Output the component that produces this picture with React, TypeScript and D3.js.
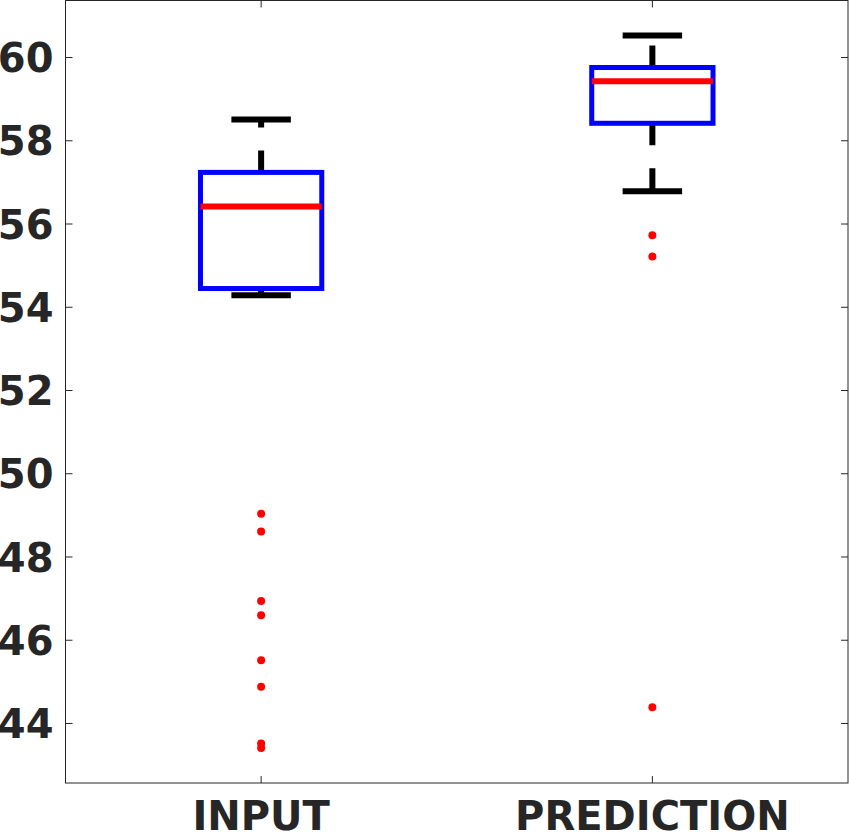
import React from "react";
import * as d3 from "d3";

const categories = ["INPUT", "PREDICTION"];
const q1Values = [54.45, 58.42];
const medianValues = [56.42, 59.43];
const q3Values = [57.24, 59.76];
const lowerWhisker = [54.29, 56.79];
const upperWhisker = [58.51, 60.53];
const outliersInput = [49.04, 48.61, 46.94, 46.6, 45.52, 44.88, 43.52, 43.41];
const outliersPrediction = [55.73, 55.22, 44.39];
const outlierLists = [outliersInput, outliersPrediction];
const yTicks = [44, 46, 48, 50, 52, 54, 56, 58, 60];

const W = 849;
const H = 832;
const L = 65.5;
const R = 848;
const T = 0.5;
const B = 783;

export default function App() {
  const x = d3.scaleLinear().domain([0.5, 2.5]).range([L, R]);
  const y = d3.scaleLinear().domain([42.57, 61.37]).range([B, T]);
  const halfBox = 0.155;
  const halfCap = 0.076;
  const axisColor = "#262626";
  const font = "'DejaVu Sans', sans-serif";
  const fs = 40;

  return (
    <div style={{ position: "absolute", left: 0, top: 0 }}>
      <svg width={W} height={H} style={{ display: "block", background: "#fff" }}>
        <rect x={L} y={T} width={R - L} height={B - T} fill="#fff" stroke={axisColor} strokeWidth={1} />
        {yTicks.map((t) => (
          <g key={t}>
            <line x1={L} x2={L + 7} y1={y(t)} y2={y(t)} stroke={axisColor} />
            <line x1={R - 7} x2={R} y1={y(t)} y2={y(t)} stroke={axisColor} />
            <text
              x={L - 12}
              y={y(t) + 0.3645 * fs}
              textAnchor="end"
              fontFamily={font}
              fontWeight="bold"
              fontSize={fs}
              fill={axisColor}
            >
              {t}
            </text>
          </g>
        ))}
        {categories.map((c, i) => {
          const cx = x(i + 1);
          return (
            <g key={c}>
              <line x1={cx} x2={cx} y1={B} y2={B - 7} stroke={axisColor} />
              <line x1={cx} x2={cx} y1={T} y2={T + 7} stroke={axisColor} />
              <text
                x={cx}
                y={830}
                textAnchor="middle"
                fontFamily={font}
                fontWeight="bold"
                fontSize={fs}
                fill={axisColor}
              >
                {c}
              </text>
              {/* whiskers */}
              <line x1={cx} x2={cx} y1={y(q3Values[i])} y2={y(upperWhisker[i])} stroke="#000" strokeWidth={6} strokeDasharray="22,23" />
              <line x1={cx} x2={cx} y1={y(q1Values[i])} y2={y(lowerWhisker[i])} stroke="#000" strokeWidth={6} strokeDasharray="22,23" />
              <line x1={x(i + 1 - halfCap)} x2={x(i + 1 + halfCap)} y1={y(upperWhisker[i])} y2={y(upperWhisker[i])} stroke="#000" strokeWidth={6} />
              <line x1={x(i + 1 - halfCap)} x2={x(i + 1 + halfCap)} y1={y(lowerWhisker[i])} y2={y(lowerWhisker[i])} stroke="#000" strokeWidth={6} />
              {/* box */}
              <rect
                x={x(i + 1 - halfBox)}
                y={y(q3Values[i])}
                width={x(i + 1 + halfBox) - x(i + 1 - halfBox)}
                height={y(q1Values[i]) - y(q3Values[i])}
                fill="none"
                stroke="#0000ff"
                strokeWidth={5}
              />
              <line x1={x(i + 1 - halfBox)} x2={x(i + 1 + halfBox)} y1={y(medianValues[i])} y2={y(medianValues[i])} stroke="#ff0000" strokeWidth={6} />
              {outlierLists[i].map((v, k) => (
                <circle key={k} cx={cx} cy={y(v)} r={4} fill="#ff0000" />
              ))}
            </g>
          );
        })}
      </svg>
    </div>
  );
}
